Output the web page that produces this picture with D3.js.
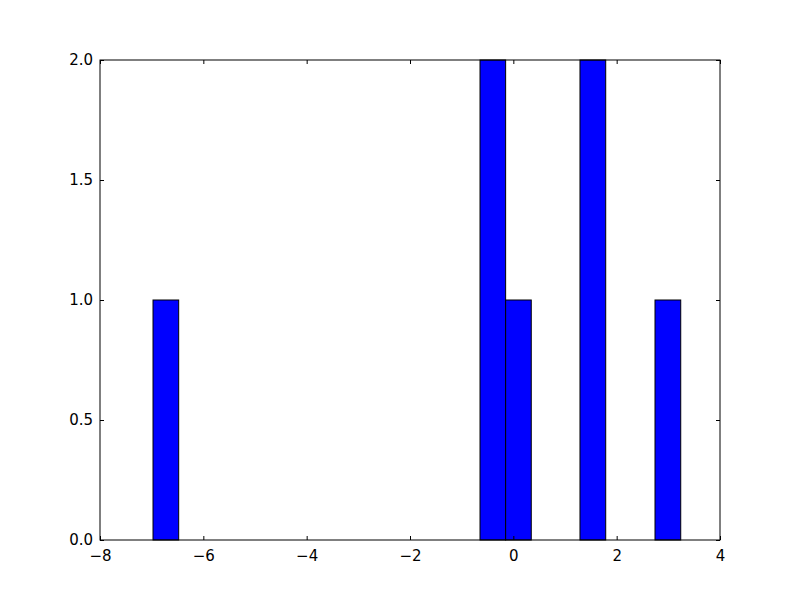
<!DOCTYPE html>
<html><head><meta charset="utf-8">
<script src="https://cdn.jsdelivr.net/npm/d3@7"></script>
<style>body{margin:0;background:#fff}svg{display:block}</style>
</head><body>
<script>
const binStarts = [-6.974, -0.645, -0.149, 1.29, 2.742];
const binEnds   = [-6.477, -0.149, 0.347, 1.788, 3.24];
const counts    = [1, 2, 1, 2, 1];
const xTicks = [-8, -6, -4, -2, 0, 2, 4];
const yTicks = [0, 0.5, 1, 1.5, 2];

const W = 800, H = 600, L = 100, R = 720, T = 60, B = 540;
const svg = d3.select("body").append("svg").attr("width", W).attr("height", H);
svg.append("rect").attr("width", W).attr("height", H).attr("fill", "#fff");
const x = d3.scaleLinear().domain([-8, 4]).range([L, R]);
const y = d3.scaleLinear().domain([0, 2]).range([B, T]);

const bars = binStarts.map((s, i) => ({s, e: binEnds[i], c: counts[i]}));
svg.selectAll("rect.bar").data(bars).enter().append("rect")
  .attr("class", "bar")
  .attr("x", d => x(d.s)).attr("width", d => x(d.e) - x(d.s))
  .attr("y", d => y(d.c)).attr("height", d => y(0) - y(d.c))
  .attr("fill", "#0000ff").attr("stroke", "#000").attr("stroke-width", 1);

const fmtX = d => (d < 0 ? "\u2212" + Math.abs(d) : String(d));
const fmtY = d3.format(".1f");
const font = "DejaVu Sans";

const gx = svg.append("g").attr("transform", `translate(0,${B})`)
  .call(d3.axisBottom(x).tickValues(xTicks).tickFormat(fmtX).tickSizeInner(-4).tickSizeOuter(0).tickPadding(10));
const gxt = svg.append("g").attr("transform", `translate(0,${T})`)
  .call(d3.axisTop(x).tickValues(xTicks).tickFormat("").tickSizeInner(-4).tickSizeOuter(0));
const gy = svg.append("g").attr("transform", `translate(${L},0)`)
  .call(d3.axisLeft(y).tickValues(yTicks).tickFormat(fmtY).tickSizeInner(-4).tickSizeOuter(0).tickPadding(7));
const gyr = svg.append("g").attr("transform", `translate(${R},0)`)
  .call(d3.axisRight(y).tickValues(yTicks).tickFormat("").tickSizeInner(-4).tickSizeOuter(0));
[gx, gxt, gy, gyr].forEach(g => {
  g.attr("font-family", font).attr("font-size", null);
  g.select(".domain").remove();
  g.selectAll("line").attr("stroke", "#000");
  g.selectAll("text").style("font-family", font).style("font-size", "15px").attr("fill", "#000");
});

svg.append("rect").attr("x", L).attr("y", T).attr("width", R - L).attr("height", B - T)
  .attr("fill", "none").attr("stroke", "#000").attr("stroke-width", 1);
</script>
</body></html>
